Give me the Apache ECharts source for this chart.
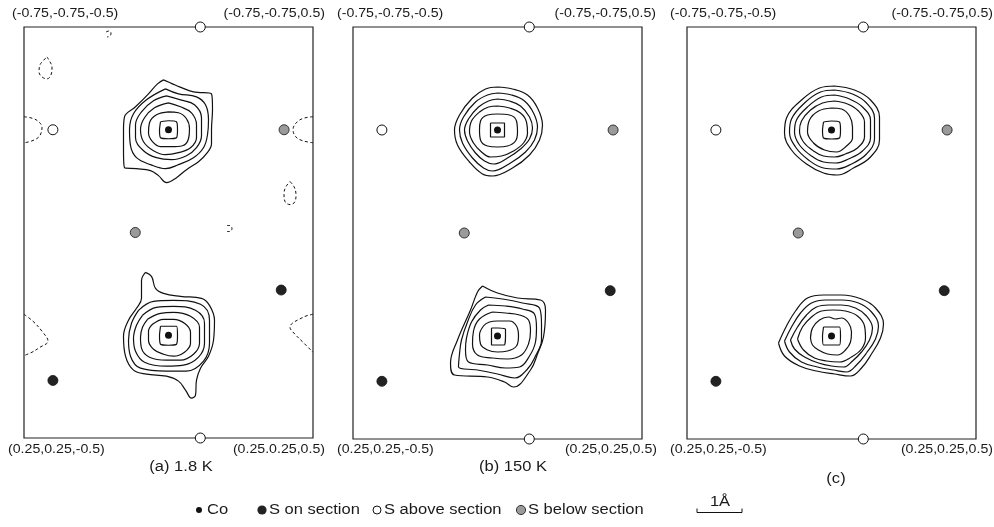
<!DOCTYPE html>
<html><head><meta charset="utf-8">
<script src="https://cdn.jsdelivr.net/npm/echarts@6/dist/echarts.min.js"></script>
<style>html,body{margin:0;padding:0;background:#fff}#c{width:994px;height:527px}</style>
</head><body><div id="c"></div><script>
// ---------- text ----------
const panelCaptions = ['(a) 1.8 K', '(b) 150 K', '(c)'];
const cornerTopLeft = ['(-0.75,-0.75,-0.5)', '(-0.75,-0.75,-0.5)', '(-0.75,-0.75,-0.5)'];
const cornerTopRight = ['(-0.75,-0.75,0.5)', '(-0.75,-0.75,0.5)', '(-0.75.-0.75,0.5)'];
const cornerBottomLeft = ['(0.25,0.25,-0.5)', '(0.25,0.25,-0.5)', '(0.25,0.25,-0.5)'];
const cornerBottomRight = ['(0.25.0.25,0.5)', '(0.25,0.25,0.5)', '(0.25,0.25,0.5)'];
const legendLabels = ['Co', 'S on section', 'S above section', 'S below section'];
const scaleLabel = '1Å';

// ---------- section coordinates: horizontal = z (-0.5..0.5), vertical = x=y (-0.75..0.25) ----------
const zRange = [-0.5, 0.5];
const dRange = [-0.75, 0.25];
const coSites = [[0, -0.5], [0, 0]];
const sOnSites = [[0.39, -0.11], [-0.40, 0.11]];
const sAboveSites = [[0.11, -0.75], [0.11, 0.25], [-0.40, -0.5]];
const sBelowSites = [[0.40, -0.5], [-0.115, -0.25]];

// contour offsets around each Co, in map units (one section = 289 x 412 map units)
const MAP_W = 289, MAP_H = 412;
const contA_top = [
  [[-5,-50],[4,-46],[11,-43],[25,-38],[43,-36],[44,-20],[43,0],[43,14],[38,24],[30,32],[18,40],[8,48],[-2,53],[-10,46],[-18,41],[-32,39],[-44,38],[-45,20],[-45,0],[-44,-13],[-33,-23],[-20,-36],[-11,-46]],
  [[-3,-41],[10,-36],[28,-33],[37,-25],[40,-10],[39,5],[35,18],[25,28],[10,35],[-3,39],[-18,35],[-32,28],[-38,16],[-39,0],[-35,-16],[-22,-30]],
  [[-2,-34],[12,-30],[26,-25],[33,-12],[33,6],[28,18],[18,26],[3,30],[-12,28],[-25,21],[-33,8],[-33,-5],[-27,-18],[-15,-29]],
  [[0,-27],[12,-23],[23,-17],[28,-5],[28,8],[22,18],[10,23],[-3,25],[-15,21],[-25,12],[-28,0],[-24,-12],[-14,-22]],
  [[0,-18],[10,-17],[18,-11],[21,-1],[20,9],[14,16],[3,17],[-8,17],[-16,12],[-20,3],[-19,-7],[-12,-15]],
  [[-8,-8],[0,-9],[8,-8],[9,0],[8,8],[0,9],[-8,8],[-9,0]]
];
const contA_bot = [
  [[-23,-63],[-17,-59],[-13,-47],[-5,-42],[12,-39],[33,-37],[41,-30],[46,-15],[45,5],[40,21],[32,33],[28,45],[27,60],[23,63],[17,55],[10,46],[-2,41],[-22,39],[-35,35],[-43,21],[-45,1],[-40,-15],[-32,-27],[-27,-37],[-27,-55]],
  [[-30,-25],[-15,-34],[5,-35],[32,-31],[41,-15],[41,8],[35,26],[18,36],[-2,36],[-28,33],[-38,21],[-40,5],[-37,-12]],
  [[-26,-20],[-12,-28],[5,-29],[27,-25],[36,-12],[36,8],[30,22],[15,30],[-2,31],[-24,27],[-33,16],[-35,3],[-32,-10]],
  [[-21,-16],[-8,-22],[5,-23],[22,-19],[31,-8],[31,8],[25,19],[12,25],[-2,25],[-19,22],[-27,13],[-28,2],[-26,-8]],
  [[-16,-11],[-5,-16],[5,-16],[16,-12],[22,-3],[22,8],[16,17],[5,21],[-5,19],[-15,14],[-20,5],[-20,-4]],
  [[-8,-9],[0,-9],[8,-9],[9,0],[8,9],[0,10],[-8,9],[-9,0]]
];
const contB_top = [
  [[0,-43],[15,-41],[30,-35],[40,-22],[45,-5],[42,10],[32,25],[15,38],[-5,46],[-15,44],[-28,32],[-40,15],[-43,0],[-38,-15],[-25,-32],[-12,-41]],
  [[0,-37],[14,-35],[27,-29],[36,-17],[40,-3],[37,10],[28,22],[13,33],[-5,41],[-14,38],[-25,28],[-35,13],[-38,0],[-34,-13],[-22,-28],[-10,-35]],
  [[0,-31],[12,-29],[23,-24],[32,-13],[35,-2],[32,9],[23,19],[10,28],[-4,34],[-13,31],[-22,23],[-30,11],[-33,0],[-29,-11],[-19,-23],[-9,-29]],
  [[0,-24],[12,-22],[23,-17],[29,-8],[30,3],[26,13],[16,21],[4,26],[-7,27],[-16,22],[-24,13],[-28,2],[-26,-9],[-18,-18],[-9,-23]],
  [[0,-16],[12,-15],[19,-9],[20,2],[18,11],[10,16],[0,17],[-10,16],[-17,10],[-18,0],[-17,-9],[-10,-15]],
  [[-7,-7],[0,-7],[7,-7],[7,0],[7,7],[0,7],[-7,7],[-7,0]]
];
const contB_bot = [
  [[-15,-50],[0,-43],[20,-38],[43,-36],[48,-26],[46,1],[40,18],[33,34],[16,51],[7,46],[-10,41],[-43,39],[-47,27],[-40,4],[-27,-26],[-20,-44]],
  [[-12,-39],[5,-37],[25,-33],[42,-28],[44,-12],[44,4],[38,20],[30,33],[17,42],[0,38],[-20,34],[-39,31],[-38,18],[-36,4],[-30,-14],[-22,-31]],
  [[-9,-31],[8,-30],[25,-27],[37,-22],[39,-8],[38,6],[32,20],[22,31],[8,32],[-10,29],[-29,26],[-32,14],[-31,2],[-26,-14],[-17,-26]],
  [[-5,-24],[8,-23],[22,-21],[31,-16],[33,-5],[31,8],[24,19],[10,23],[-5,22],[-20,19],[-25,8],[-24,-5],[-18,-17]],
  [[0,-15],[12,-15],[19,-10],[21,0],[19,10],[10,15],[0,16],[-10,14],[-17,8],[-18,-1],[-14,-10],[-8,-14]],
  [[-6,-8],[1,-8],[8,-7],[8,1],[7,9],[0,9],[-6,9],[-6,0]]
];
const contC_top = [
  [[3,-44],[23,-40],[39,-30],[48,-13],[48,10],[39,27],[22,38],[6,45],[-8,43],[-25,34],[-40,20],[-47,3],[-45,-12],[-30,-30],[-12,-42]],
  [[3,-40],[21,-36],[35,-27],[43,-12],[43,9],[35,24],[20,34],[5,39],[-8,38],[-23,30],[-36,17],[-42,2],[-40,-11],[-27,-27],[-11,-38]],
  [[3,-35],[18,-31],[31,-23],[39,-10],[39,8],[31,21],[17,29],[4,33],[-8,32],[-20,26],[-32,15],[-37,2],[-35,-10],[-24,-23],[-10,-33]],
  [[3,-29],[16,-26],[27,-19],[33,-8],[33,7],[26,18],[14,24],[3,27],[-8,26],[-18,21],[-28,12],[-32,1],[-30,-9],[-21,-20],[-9,-27]],
  [[0,-22],[10,-21],[18,-14],[21,-3],[21,8],[15,16],[5,22],[-7,20],[-18,13],[-24,2],[-22,-10],[-13,-19]],
  [[-8,-8],[0,-9],[8,-8],[9,0],[8,8],[0,9],[-8,8],[-9,0]]
];
const contC_bot = [
  [[-53,7],[-45,-10],[-36,-25],[-24,-38],[-8,-41],[10,-41],[30,-37],[44,-28],[52,-12],[49,2],[40,18],[30,32],[19,40],[3,38],[-15,35],[-32,30],[-47,20]],
  [[-47,5],[-40,-9],[-31,-23],[-20,-33],[-6,-36],[10,-36],[27,-33],[40,-24],[47,-10],[44,3],[35,17],[25,29],[15,36],[2,34],[-14,31],[-30,26],[-42,16]],
  [[-41,4],[-34,-9],[-25,-21],[-15,-29],[-3,-31],[10,-31],[24,-28],[35,-20],[41,-8],[38,4],[30,16],[21,25],[12,31],[0,30],[-13,27],[-27,21],[-37,13]],
  [[-34,3],[-29,-9],[-20,-19],[-10,-25],[2,-26],[14,-25],[26,-20],[33,-10],[34,2],[30,13],[20,21],[8,26],[-5,25],[-17,22],[-28,14]],
  [[-21,2],[-19,-8],[-12,-16],[-3,-19],[4,-17],[10,-18],[17,-13],[20,-4],[19,6],[14,14],[6,19],[-4,18],[-13,14],[-19,9]],
  [[-8,-9],[0,-9],[8,-9],[9,0],[8,9],[0,9],[-8,9],[-9,0]]
];
// negative (dashed) contours of panel (a), map units from the section's top-left corner
const negA = [
  [[82,5],[85,4],[87,6],[86,9],[83,10]],
  [[23,30],[26,35],[28,40],[27,48],[23,52],[18,50],[15,45],[16,38],[19,34],[23,30]],
  [[0,90],[12,93],[18,101],[14,111],[1,116]],
  [[289,90],[276,93],[269,103],[274,112],[289,116]],
  [[266,155],[270,160],[272,168],[271,175],[266,178],[261,175],[260,167],[262,160],[266,155]],
  [[203,199],[206,199],[208,202],[206,205],[203,205]],
  [[0,288],[9,295],[18,305],[24,315],[16,321],[8,326],[1,329]],
  [[289,288],[279,291],[266,301],[271,308],[279,316],[289,326]]
];
const panelContours = [[contA_top, contA_bot], [contB_top, contB_bot], [contC_top, contC_bot]];
const panelNegatives = [negA, [], []];

// ---------- layout ----------
const grids = [
  {left: 24, top: 27, width: 289, height: 411},
  {left: 353, top: 27, width: 289, height: 412},
  {left: 687, top: 27, width: 289, height: 412}
];
const FONT = '"Liberation Sans", Arial, Helvetica, sans-serif';
const SX = 1.18;

function ring(site, pts) {
  const out = pts.map(p => [site[0] + p[0] / MAP_W, site[1] + p[1] / MAP_H]);
  out.push(out[0]);
  return out;
}
function rel(pts) {
  return pts.map(p => [zRange[0] + p[0] / MAP_W, dRange[0] + p[1] / MAP_H]);
}

const series = [];
const xAxis = [], yAxis = [], gridOpt = [];
grids.forEach((g, p) => {
  gridOpt.push(Object.assign({show: true, borderColor: '#222', borderWidth: 1.2, backgroundColor: 'transparent'}, g));
  xAxis.push({type: 'value', gridIndex: p, min: zRange[0], max: zRange[1], show: false});
  yAxis.push({type: 'value', gridIndex: p, min: dRange[0], max: dRange[1], inverse: true, show: false});
  panelContours[p].forEach((set, ci) => {
    set.forEach((pts, k) => {
      series.push({
        type: 'line', xAxisIndex: p, yAxisIndex: p, silent: true, showSymbol: false, symbol: 'none',
        smooth: k === set.length - 1 ? 0.15 : 0.4, clip: false,
        lineStyle: {color: '#111', width: 1.2},
        data: ring(coSites[ci], pts), z: 3
      });
    });
  });
  panelNegatives[p].forEach(pts => {
    series.push({
      type: 'line', xAxisIndex: p, yAxisIndex: p, silent: true, showSymbol: false, symbol: 'none',
      smooth: 0.4, clip: true,
      lineStyle: {color: '#111', width: 1, type: [3, 2.5]},
      data: rel(pts), z: 3
    });
  });
  const sc = (name, sites, size, color, border, bw) => series.push({
    type: 'scatter', name, xAxisIndex: p, yAxisIndex: p, silent: true, clip: false,
    symbolSize: size, itemStyle: {color, borderColor: border, borderWidth: bw, opacity: 1},
    data: sites, z: 6
  });
  sc('Co', coSites, 7, '#111', '#111', 0);
  sc('S on section', sOnSites, 10, '#222', '#111', 0.8);
  sc('S above section', sAboveSites, 10, '#fff', '#111', 1);
  sc('S below section', sBelowSites, 10, '#9a9a9a', '#333', 1);
});

// ---------- texts & legend ----------
function txt(str, x, y, size, align) {
  return {type: 'text', x, y, scaleX: SX, silent: true, z: 10,
    style: {text: str, font: size + 'px ' + FONT, fill: '#1a1a1a', align, verticalAlign: 'middle'}};
}
const graphic = [];
const tlX = [12, 337, 670], trX = [325, 656, 993], blX = [8, 337, 670], brX = [325, 657, 993];
for (let p = 0; p < 3; p++) {
  graphic.push(txt(cornerTopLeft[p], tlX[p], 14, 12, 'left'));
  graphic.push(txt(cornerTopRight[p], trX[p], 14, 12, 'right'));
  graphic.push(txt(cornerBottomLeft[p], blX[p], 450, 12, 'left'));
  graphic.push(txt(cornerBottomRight[p], brX[p], 450, 12, 'right'));
}
const capX = [181, 513, 836], capY = [467, 467, 479];
panelCaptions.forEach((c, p) => graphic.push(txt(c, capX[p], capY[p], 14, 'center')));

const LY = 510;
graphic.push({type: 'circle', silent: true, shape: {cx: 199, cy: LY, r: 3}, style: {fill: '#111'}});
graphic.push(txt(legendLabels[0], 207, LY, 14, 'left'));
graphic.push({type: 'circle', silent: true, shape: {cx: 262, cy: LY, r: 4.6}, style: {fill: '#222'}});
graphic.push(txt(legendLabels[1], 269, LY, 14, 'left'));
graphic.push({type: 'circle', silent: true, shape: {cx: 377, cy: LY, r: 4}, style: {fill: '#fff', stroke: '#111', lineWidth: 1}});
graphic.push(txt(legendLabels[2], 384, LY, 14, 'left'));
graphic.push({type: 'circle', silent: true, shape: {cx: 521, cy: LY, r: 4.6}, style: {fill: '#9a9a9a', stroke: '#333', lineWidth: 1}});
graphic.push(txt(legendLabels[3], 528, LY, 14, 'left'));
graphic.push({type: 'polyline', silent: true, shape: {points: [[697, 508.5], [697, 512.5], [742, 512.5], [742, 508.5]]}, style: {stroke: '#111', lineWidth: 1, fill: null}});
graphic.push(txt(scaleLabel, 720, 502, 14, 'center'));

const chart = echarts.init(document.getElementById('c'), null, {renderer: 'canvas'});
chart.setOption({
  animation: false,
  backgroundColor: '#fff',
  grid: gridOpt, xAxis, yAxis, series, graphic
});
</script></body></html>
